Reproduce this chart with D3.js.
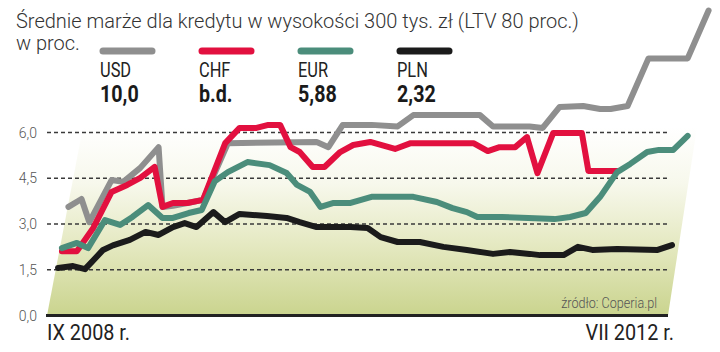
<!DOCTYPE html>
<html>
<head>
<meta charset="utf-8">
<script src="https://cdn.jsdelivr.net/npm/d3@7"></script>
<style>
  body { margin: 0; background: #fff; }
  svg { display: block; }
  text { font-family: Roboto, "Open Sans", sans-serif; }
</style>
</head>
<body>
<svg id="chart" width="720" height="352"></svg>
<script>
// series: [month index from IX 2008, margin in %]
const usd = [[0.8,3.56],[1.8,3.82],[2.4,3.06],[4.1,4.44],[5,4.38],[6.3,4.84],[7.7,5.52],[8,3.56],[8.8,3.6],[9.9,3.69],[11.1,3.79],[13,5.65],[19.8,5.69],[20.7,5.52],[21.8,6.25],[24,6.25],[26,6.2],[27.2,6.57],[32.3,6.57],[33.3,6.2],[36.1,6.2],[37.1,6.15],[38.4,6.84],[40.2,6.87],[41.5,6.77],[42.3,6.77],[43.6,6.87],[45.2,8.43],[48.2,8.43],[49.8,10.0]]
const chf = [[0.3,2.11],[1.45,2.11],[2.7,2.87],[4.1,4.05],[5.3,4.28],[6.3,4.51],[7.4,4.87],[8,3.56],[8.8,3.69],[9.9,3.69],[11.1,3.79],[12.8,5.65],[13.9,6.15],[15.2,6.15],[16.1,6.25],[17,6.25],[17.8,5.52],[18.5,5.36],[19.5,4.87],[20.4,4.87],[21.6,5.36],[22.6,5.59],[23.9,5.69],[25.8,5.46],[27,5.65],[31.8,5.65],[32.9,5.39],[33.8,5.52],[35,5.52],[35.9,5.85],[36.7,4.67],[37.9,5.98],[40.1,5.98],[40.6,4.74],[42.8,4.74]]
const eur = [[0.3,2.21],[1.45,2.38],[2.3,2.21],[3.6,3.13],[4.75,2.97],[5.7,3.23],[6.9,3.62],[8,3.2],[8.8,3.2],[10,3.36],[11,3.46],[12,4.4],[13,4.7],[14.5,5.03],[16.2,4.93],[17.5,4.67],[18.3,4.28],[19.3,4.05],[20.1,3.56],[21.1,3.69],[22.4,3.69],[24,3.89],[27.2,3.89],[29,3.72],[30.2,3.52],[31.3,3.39],[32.1,3.23],[34,3.23],[36,3.2],[38,3.16],[39.2,3.23],[40.4,3.36],[41.5,3.89],[42.8,4.7],[43.8,4.97],[45.1,5.36],[46,5.43],[47.1,5.43],[48.2,5.89]]
const pln = [[0,1.56],[1.15,1.62],[2.07,1.52],[3.45,2.15],[4.2,2.3],[5.5,2.48],[6.7,2.74],[7.7,2.64],[8.8,2.9],[9.7,3.03],[10.6,2.9],[11.9,3.39],[12.8,3.06],[13.9,3.33],[16,3.26],[17.5,3.2],[18.5,3.06],[19.8,2.9],[22.4,2.9],[23.7,2.87],[24.7,2.57],[26,2.41],[27.7,2.41],[29.5,2.25],[31.3,2.15],[33.3,2.02],[34.6,2.08],[36.1,2.02],[36.9,1.98],[38.7,1.98],[39.8,2.25],[40.9,2.15],[42.8,2.18],[45.9,2.15],[47,2.31]]

const currencies = ["USD", "CHF", "EUR", "PLN"]
const lastValues = ["10,0", "b.d.", "5,88", "2,32"]
const yTicks = [0, 1.5, 3, 4.5, 6]
const xLabels = ["IX 2008 r.", "VII 2012 r."]
const xLabelMonths = [0, 47]

const colors = { USD: "#8f8f8f", CHF: "#e2103f", EUR: "#4b8d7b", PLN: "#1b1b1b" }

const svg = d3.select("#chart")

const x = d3.scaleLinear().domain([0, 47]).range([58, 672])
const y = d3.scaleLinear().domain([0, 6]).range([315.5, 132.5])
const fmt = d3.formatLocale({ decimal: ",", thousands: " ", grouping: [3], currency: ["", ""] }).format(".1f")

// squeeze text horizontally to mimic the condensed typeface
function condense(sel, k) {
  sel.each(function() {
    const w = this.getComputedTextLength()
    d3.select(this).attr("textLength", w * k).attr("lengthAdjust", "spacingAndGlyphs")
  })
}

// background gradient panel
const grad = svg.append("defs").append("linearGradient")
  .attr("id", "bg").attr("x1", 0).attr("y1", 0).attr("x2", 0).attr("y2", 1)
grad.append("stop").attr("offset", "0%").attr("stop-color", "#ffffff")
grad.append("stop").attr("offset", "30%").attr("stop-color", "#f7f8ec")
grad.append("stop").attr("offset", "62%").attr("stop-color", "#e5e9c2")
grad.append("stop").attr("offset", "100%").attr("stop-color", "#cad48e")

svg.append("polygon")
  .attr("points", [[47, y(0)], [83, 127], [697, 127], [668, y(0)]].join(" "))
  .attr("fill", "url(#bg)")

// gridlines
svg.append("g").selectAll("line")
  .data(yTicks.filter(d => d > 0)).enter()
  .append("line")
  .attr("x1", 47).attr("x2", 668)
  .attr("y1", d => y(d)).attr("y2", d => y(d))
  .attr("stroke", "#3a3a3a").attr("stroke-width", 1.4)
  .attr("stroke-dasharray", "4,3")

// y tick labels
svg.append("g").selectAll("text")
  .data(yTicks).enter()
  .append("text")
  .attr("x", 37).attr("y", d => y(d) + 5)
  .attr("text-anchor", "end")
  .attr("font-weight", 300)
  .attr("font-size", 14).attr("fill", "#555")
  .text(d => fmt(d))

// source
svg.append("text")
  .attr("x", 657).attr("y", 308)
  .attr("text-anchor", "end")
  .attr("font-weight", 300)
  .attr("font-size", 15).attr("fill", "#555")
  .text("źródło: Coperia.pl")
  .call(condense, 0.84)

// lines
const line = d3.line().x(d => x(d[0])).y(d => y(d[1]))
const series = [["USD", usd], ["CHF", chf], ["EUR", eur], ["PLN", pln]]
svg.append("g").selectAll("path")
  .data(series).enter()
  .append("path")
  .attr("d", d => line(d[1]))
  .attr("fill", "none")
  .attr("stroke", d => colors[d[0]])
  .attr("stroke-width", 6)
  .attr("stroke-linejoin", "round")
  .attr("stroke-linecap", "round")

// baseline
svg.append("line")
  .attr("x1", 46).attr("x2", 668)
  .attr("y1", y(0)).attr("y2", y(0))
  .attr("stroke", "#222").attr("stroke-width", 3)

// x labels
svg.append("g").selectAll("text")
  .data(xLabels).enter()
  .append("text")
  .attr("x", (d, i) => i === 0 ? x(xLabelMonths[i]) - 11 : x(xLabelMonths[i]) + 2)
  .attr("y", 340)
  .attr("text-anchor", (d, i) => i === 0 ? "start" : "end")
  .attr("font-size", 22).attr("fill", "#222")
  .text(d => d)
  .call(condense, 0.9)

// title
svg.append("text")
  .attr("x", 16).attr("y", 28)
  .attr("font-weight", 300)
  .attr("font-size", 20).attr("fill", "#333")
  .text("Średnie marże dla kredytu w wysokości 300 tys. zł (LTV 80 proc.)")
svg.append("text")
  .attr("x", 16).attr("y", 50)
  .attr("font-weight", 300)
  .attr("font-size", 20).attr("fill", "#333")
  .text("w proc.")

// legend
const legendX = d3.scalePoint().domain(currencies).range([100, 397])
const leg = svg.append("g").selectAll("g")
  .data(currencies).enter()
  .append("g")
  .attr("transform", d => `translate(${legendX(d)},0)`)
leg.append("line")
  .attr("x1", 3).attr("x2", 52).attr("y1", 51).attr("y2", 51)
  .attr("stroke", d => colors[d]).attr("stroke-width", 7)
  .attr("stroke-linecap", "round")
leg.append("text")
  .attr("x", 0).attr("y", 77)
  .attr("font-size", 20).attr("fill", "#222")
  .text(d => d)
  .call(condense, 0.82)
leg.append("text")
  .attr("x", 0).attr("y", 102)
  .attr("font-weight", "bold").attr("font-size", 24).attr("fill", "#1a1a1a")
  .text((d, i) => lastValues[i])
  .call(condense, 0.82)
</script>
</body>
</html>
